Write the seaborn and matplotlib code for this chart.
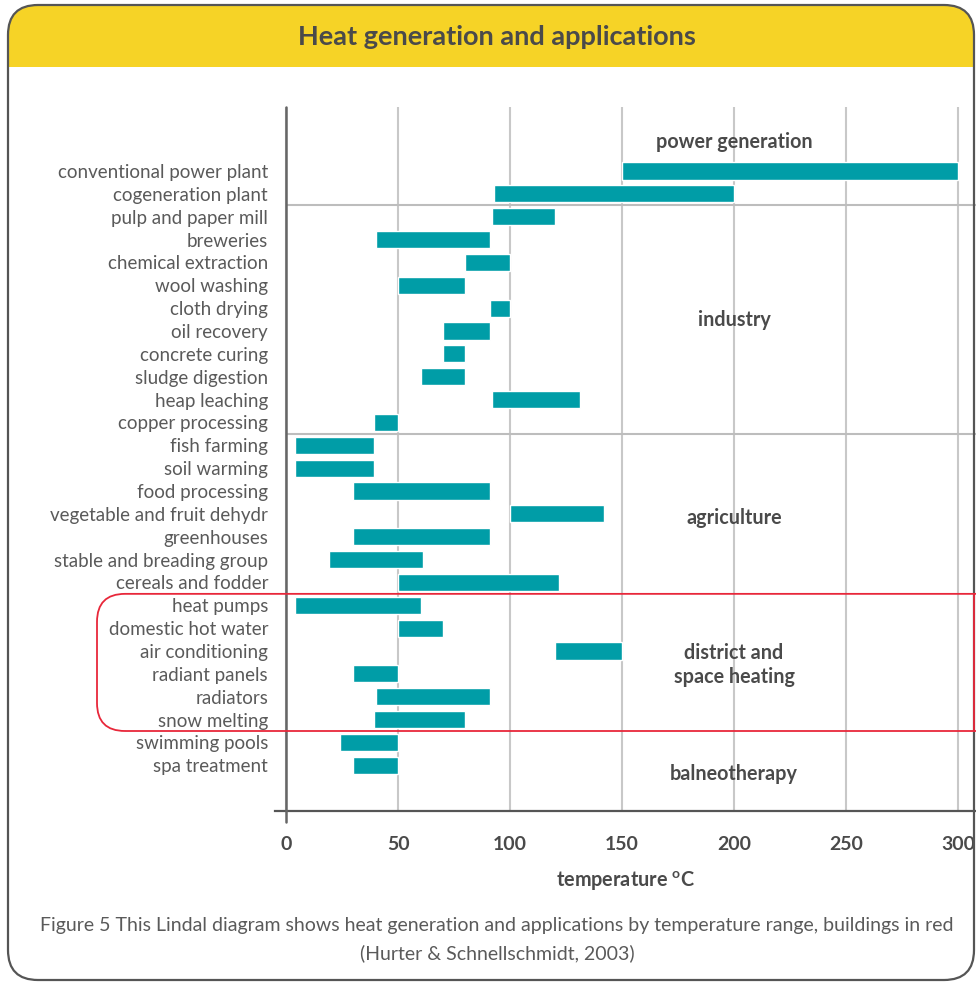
import numpy as np
import matplotlib.pyplot as plt
import matplotlib.transforms as mtransforms
from matplotlib.patches import FancyBboxPatch, Rectangle
import pandas as pd
import seaborn as sns

# 数据：每个应用的温度范围 (°C)
applications = [
    "conventional power plant", "cogeneration plant", "pulp and paper mill",
    "breweries", "chemical extraction", "wool washing", "cloth drying",
    "oil recovery", "concrete curing", "sludge digestion", "heap leaching",
    "copper processing", "fish farming", "soil warming", "food processing",
    "vegetable and fruit dehydr", "greenhouses", "stable and breading group",
    "cereals and fodder", "heat pumps", "domestic hot water", "air conditioning",
    "radiant panels", "radiators", "snow melting", "swimming pools", "spa treatment",
]
temp_low = [150, 93, 92, 40, 80, 50, 91, 70, 70, 60, 92, 39, 4, 4, 30,
            100, 30, 19, 50, 4, 50, 120, 30, 40, 39, 24, 30]
temp_high = [300, 200, 120, 91, 100, 80, 100, 91, 80, 80, 131, 50, 39, 39, 91,
             142, 91, 61, 122, 60, 70, 150, 50, 91, 80, 50, 50]

groups = ["power generation", "industry", "agriculture",
          "district and\nspace heating", "balneotherapy"]
group_label_y = [-1.25, 6.5, 15.2, 21.6, 26.4]
separators = [1.5, 11.5]
buildings = ("heat pumps", "snow melting")

x_ticks = [0, 50, 100, 150, 200, 250, 300]

TEAL = "#009DA7"
YELLOW = "#F6D326"
DARK = "#4a4a4a"
GREY = "#5a5a5a"
GRID = "#c8c8c8"

sns.set_style("white")
plt.rcParams["font.family"] = ["Lato", "DejaVu Sans"]
plt.rcParams["mathtext.fontset"] = "custom"
plt.rcParams["mathtext.rm"] = "Lato:bold"
plt.rcParams["mathtext.bf"] = "Lato:bold"

df = pd.DataFrame({"app": applications, "low": temp_low, "high": temp_high})
df["span"] = df["high"] - df["low"]

W, H = 976, 982
fig = plt.figure(figsize=(W / 100, H / 100), dpi=100)
ax = fig.add_axes([275 / W, (H - 811) / H, (W - 275) / W, (811 - 107) / H])
ax.set_facecolor("none")

sns.barplot(data=df, y="app", x="span", order=applications, left=df["low"].values,
            color=TEAL, saturation=1, width=0.75, ax=ax, zorder=3)

ax.set_xlim(-5, 308)
ax.set_ylim(28.0, -2.8)
ax.set_xticks(x_ticks)
ax.set_xticklabels([str(t) for t in x_ticks], fontsize=14, fontweight="bold", color=DARK)
ax.tick_params(axis="x", length=11, width=1.5, color=GRID, pad=7)
ax.tick_params(axis="y", length=0, pad=5, labelsize=13.5, labelcolor=GREY)
ax.set_ylabel("")
ax.set_xlabel("temperature $^{\\mathrm{o}}$C", fontsize=14.3, fontweight="bold",
              color=DARK, labelpad=12)
ax.grid(axis="x", color=GRID, lw=1.5, zorder=0)
ax.set_axisbelow(True)
for s in ["top", "right", "left"]:
    ax.spines[s].set_visible(False)
ax.spines["bottom"].set_color("#555555")
ax.spines["bottom"].set_linewidth(1.6)
ax.axvline(0, ymin=-0.016, ymax=1, color="#666666", lw=1.8, clip_on=False, zorder=4)
ax.hlines(separators, 0, 308, color="#bdbdbd", lw=1.5, zorder=2)

for name, yy in zip(groups, group_label_y):
    ax.text(200, yy, name, ha="center", va="center", fontsize=14.2,
            fontweight="bold", color=DARK, linespacing=1.25, zorder=5)

# 背景框与标题栏
ident = mtransforms.IdentityTransform()
fig.add_artist(FancyBboxPatch((8, 0), 966, H - 5, boxstyle="round,pad=0,rounding_size=30",
                              facecolor=YELLOW, edgecolor="none", transform=ident, zorder=-3))
fig.add_artist(Rectangle((9, -40), 964, H - 67 + 40, facecolor="white",
                         edgecolor="none", transform=ident, zorder=-2))
fig.add_artist(FancyBboxPatch((8, 2), 966, H - 7, boxstyle="round,pad=0,rounding_size=30",
                              facecolor="none", edgecolor="#555555", lw=1.6,
                              transform=ident, zorder=6))
fig.text(497 / W, 1 - 37 / H, "Heat generation and applications", ha="center",
         va="center", fontsize=19.5, fontweight="bold", color=DARK)

# 建筑相关应用的红框
fig.canvas.draw()
i0 = applications.index(buildings[0]) - 0.5
i1 = applications.index(buildings[1]) + 0.5
y_top = ax.transData.transform((0, i0))[1]
y_bot = ax.transData.transform((0, i1))[1]
fig.add_artist(FancyBboxPatch((97, y_bot), 1000, y_top - y_bot,
                              boxstyle="round,pad=0,rounding_size=28",
                              facecolor="none", edgecolor="#E8273A", lw=1.3,
                              transform=ident, zorder=7))
fig.add_artist(plt.Line2D([974, 974], [y_bot, y_top], color="#E8273A", lw=1.3,
                          transform=ident, zorder=7))

fig.text(497 / W, 1 - 925 / H,
         "Figure 5 This Lindal diagram shows heat generation and applications by temperature range, buildings in red",
         ha="center", va="center", fontsize=14, color=GREY)
fig.text(497 / W, 1 - 953 / H, "(Hurter & Schnellschmidt, 2003)",
         ha="center", va="center", fontsize=14, color=GREY)

fig.savefig("out.png", dpi=100)
